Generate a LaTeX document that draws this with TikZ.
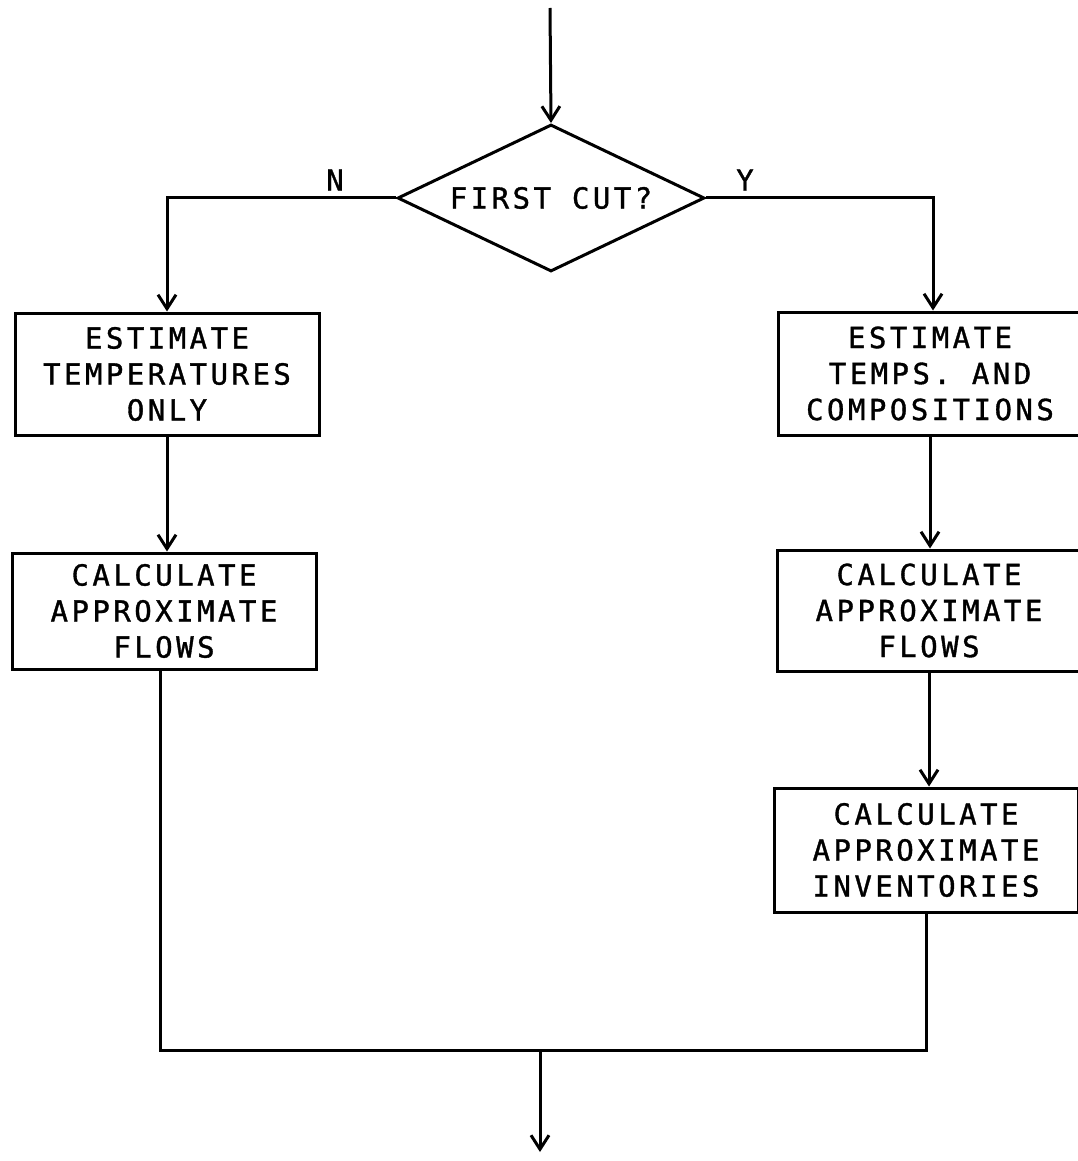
\documentclass[tikz,border=0pt]{standalone}
\usepackage{fontspec}
\newfontfamily\plotfont[LetterSpace=12,FakeBold=1.2]{DejaVu Sans Mono}
\usetikzlibrary{shapes.geometric,arrows.meta}
\tikzset{
  plottext/.style={font=\plotfont\fontsize{29}{36}\selectfont, align=center},
  procbox/.style={draw, line width=3pt, rectangle, minimum width=304pt, minimum height=122pt, inner sep=0pt, plottext},
  decbox/.style={draw, line width=3pt, diamond, shape aspect=2.09, minimum width=307pt, minimum height=147pt, inner sep=0pt, plottext},
  flow/.style={line width=3pt},
  arr/.style={flow, -{Straight Barb[length=14pt,width=18pt,line width=3pt]}},
  lbl/.style={plottext}
}
\begin{document}
\begin{tikzpicture}[x=1pt,y=-1pt]
\useasboundingbox (0,0) rectangle (1078,1161);
\coordinate (start) at (550,8);
\node[decbox] (dec) at (551,198) {FIRST CUT?};
\node[procbox] (l1) at (167,374) {ESTIMATE\\TEMPERATURES\\ONLY};
\node[procbox, minimum height=116pt] (l2) at (164,611) {CALCULATE\\APPROXIMATE\\FLOWS};
\node[procbox, minimum height=123pt] (r1) at (930,373.5) {ESTIMATE\\TEMPS. AND\\COMPOSITIONS};
\node[procbox, minimum height=121pt] (r2) at (929,610.5) {CALCULATE\\APPROXIMATE\\FLOWS};
\node[procbox, minimum height=124pt] (r3) at (926,850) {CALCULATE\\APPROXIMATE\\INVENTORIES};
\node[lbl] (nlab) at (335,180) {N};
\node[lbl] (ylab) at (745,180) {Y};
\coordinate (join) at (540,1050);
\coordinate (finish) at (540,1152);
\draw[arr] (start) -- (dec.north);
\draw[arr] (dec.west) -| (l1.north);
\draw[arr] (dec.east) -| ([xshift=3pt]r1.north);
\draw[arr] (l1.south) -- (l1.south |- l2.north);
\draw[arr] (r1.south) -- (r1.south |- r2.north);
\draw[arr] (r2.south) -- (r2.south |- r3.north);
\draw[flow] ([xshift=-4pt]l2.south) |- (join) -| (r3.south);
\draw[arr] (join) -- (finish);
\end{tikzpicture}
\end{document}
